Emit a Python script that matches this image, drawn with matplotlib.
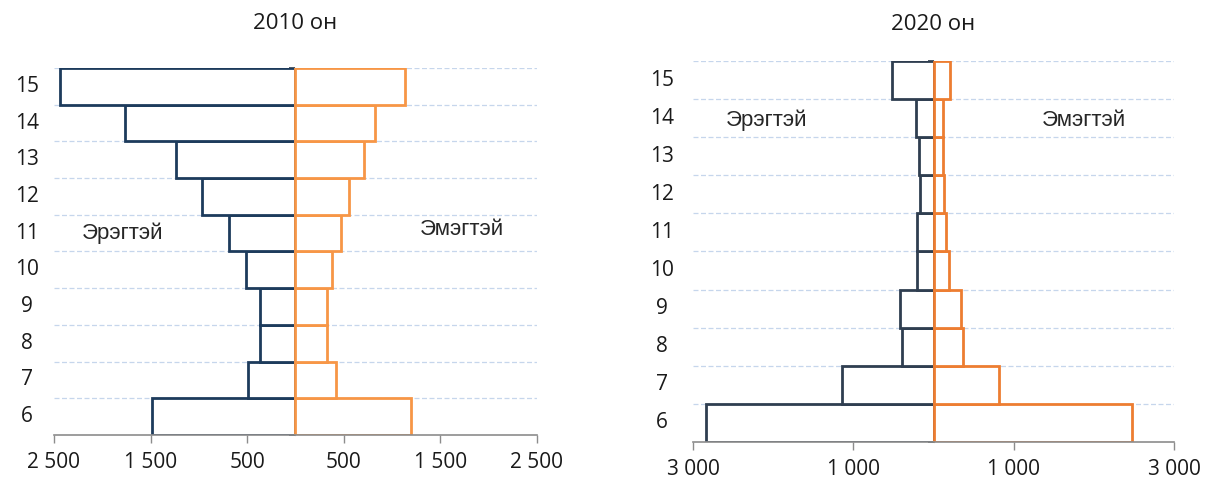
import numpy as np
import matplotlib
matplotlib.use("Agg")
import matplotlib.pyplot as plt
from matplotlib.transforms import blended_transform_factory

plt.rcParams['font.family'] = ['Open Sans', 'DejaVu Sans']

ages = [6, 7, 8, 9, 10, 11, 12, 13, 14, 15]

# 2010
male2010 = [1490, 490, 365, 365, 510, 688, 969, 1240, 1760, 2437]
female2010 = [1198, 417, 323, 323, 375, 469, 552, 708, 823, 1135]

# 2020
male2020 = [2832, 1143, 398, 422, 211, 211, 174, 186, 224, 522]
female2020 = [2472, 820, 373, 348, 199, 161, 137, 124, 124, 211]

titles = ["2010 он", "2020 он"]
maleLabel = "Эрэгтэй"
femaleLabel = "Эмэгтэй"


def fmt(v):
    return "{:,}".format(abs(int(v))).replace(",", " ")


def drawPyramid(ax, male, female, xmax, xticks, maleColor, femaleColor, labelPad):
    y = np.arange(len(ages))
    # dashed gridlines at category boundaries
    for b in np.arange(0.5, len(ages), 1.0):
        ax.axhline(b, color='#c6d6ec', lw=0.9, ls=(0, (4, 2)), zorder=0)
    ax.barh(y, -np.array(male), height=1.0, facecolor='white',
            edgecolor=maleColor, lw=2.0, zorder=2)
    ax.barh(y, female, height=1.0, facecolor='white',
            edgecolor=femaleColor, lw=2.0, zorder=2)

    ax.set_xlim(-xmax, xmax)
    ax.set_ylim(-0.5, len(ages) - 0.5)

    for s in ['top', 'right']:
        ax.spines[s].set_visible(False)
    ax.spines['left'].set_position(('data', 0))
    ax.spines['left'].set_color('#8c8c8c')
    ax.spines['left'].set_zorder(1.5)
    ax.spines['bottom'].set_color('#8c8c8c')
    ax.spines['bottom'].set_linewidth(1.2)

    ax.set_yticks(y)
    ax.set_yticklabels([])
    ax.tick_params(axis='y', which='major', length=0)
    ax.set_yticks(np.arange(-0.5, len(ages), 1.0), minor=True)
    ax.tick_params(axis='y', which='minor', length=4, width=1.2,
                   color='#2b3a4a', direction='out')

    ax.set_xticks(xticks)
    ax.set_xticklabels([fmt(v) for v in xticks])
    ax.tick_params(axis='x', length=6, width=1.0, color='#8c8c8c',
                   labelsize=15, pad=6, labelcolor='#1a1a1a')

    trans = blended_transform_factory(ax.transAxes, ax.transData)
    for yy, a in zip(y, ages):
        ax.text(labelPad, yy, str(a), transform=trans, ha='center',
                va='center', fontsize=15, color='#1a1a1a')


fig = plt.figure(figsize=(12.05, 4.78), dpi=100)

ax1 = fig.add_axes([0.0448, 0.0900, 0.4008, 0.7677])
drawPyramid(ax1, male2010, female2010, 2500,
            [-2500, -1500, -500, 500, 1500, 2500],
            '#1d3b5c', '#f79646', -0.056)
ax1.set_title(titles[0], fontsize=16, pad=28, color='#1a1a1a')
ax1.text(-2208, 5.0, maleLabel, fontsize=16, family='Liberation Sans',
         ha='left', va='center', color='#262626')
ax1.text(1292, 5.1, femaleLabel, fontsize=16, family='Liberation Sans',
         ha='left', va='center', color='#262626')

ax2 = fig.add_axes([0.5751, 0.0753, 0.3992, 0.7971])
drawPyramid(ax2, male2020, female2020, 3000,
            [-3000, -1000, 1000, 3000],
            '#2f3e50', '#ed7d31', -0.064)
ax2.set_title(titles[1], fontsize=16, pad=22, color='#1a1a1a')
ax2.text(-2596, 7.95, maleLabel, fontsize=16, family='Liberation Sans',
         ha='left', va='center', color='#262626')
ax2.text(1354, 7.95, femaleLabel, fontsize=16, family='Liberation Sans',
         ha='left', va='center', color='#262626')

fig.savefig("out.png", dpi=100)
